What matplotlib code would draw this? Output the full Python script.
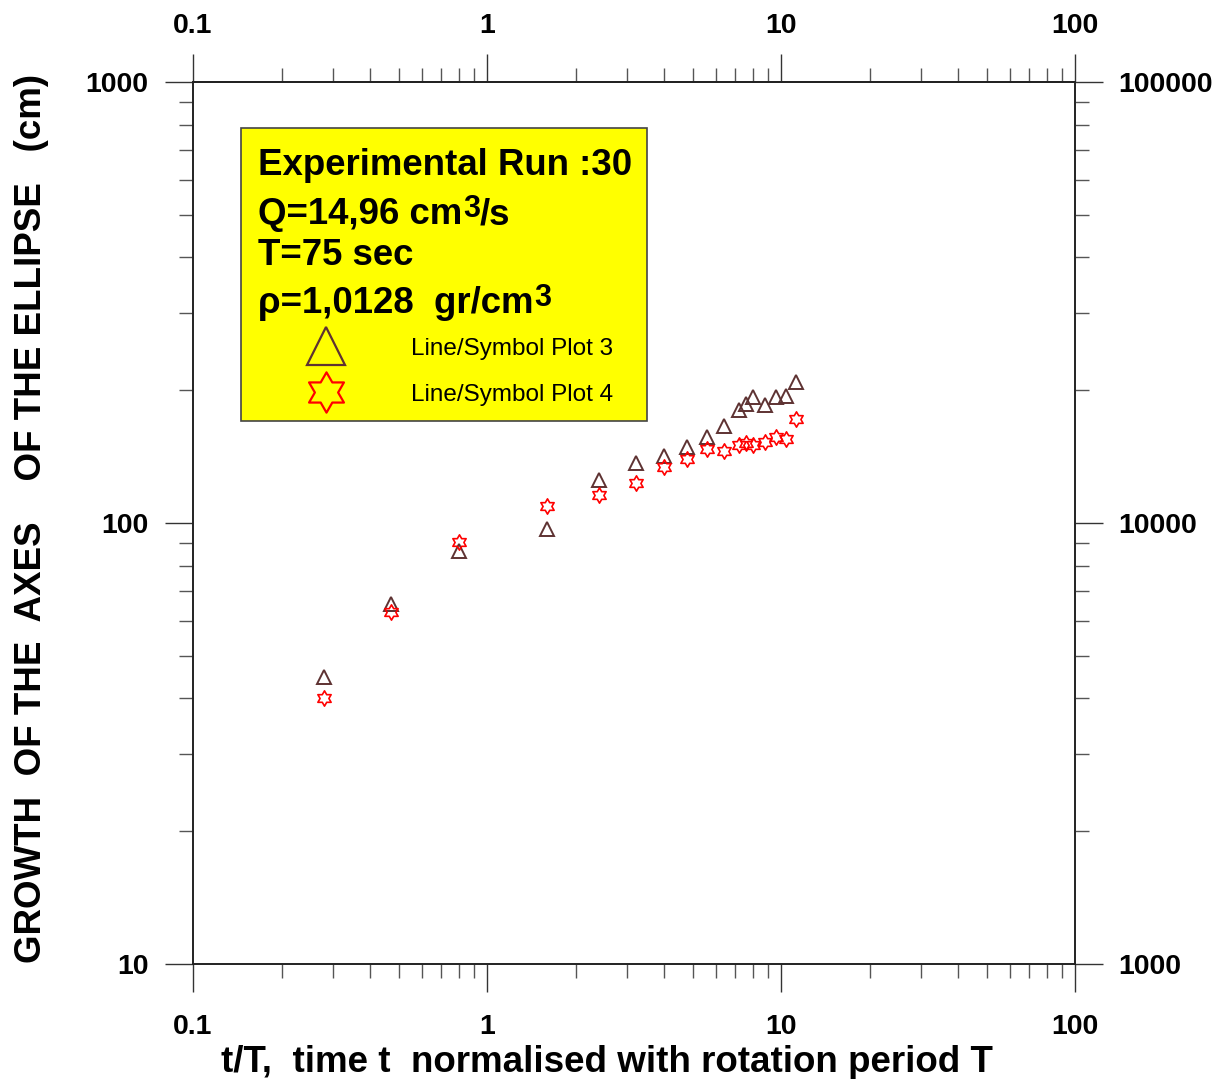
import numpy as np
import matplotlib
matplotlib.use('Agg')
import matplotlib.pyplot as plt
from matplotlib.path import Path
from matplotlib.lines import Line2D
from matplotlib.patches import Rectangle
from matplotlib.ticker import FuncFormatter, LogLocator

plt.rcParams['font.family'] = ['Liberation Sans', 'DejaVu Sans']

# data
t_norm = [0.28, 0.47, 0.8, 1.6, 2.4, 3.2, 4.0, 4.8, 5.6, 6.4,
          7.2, 7.6, 8.0, 8.8, 9.6, 10.4, 11.2]
plot3 = [44.8, 65.5, 86.4, 96.9, 125, 137, 142, 149, 157, 166,
         180, 186, 193, 185, 193, 194, 209]
plot4 = [40.1, 62.9, 90.6, 109, 116, 123, 134, 140, 147, 146,
         150, 152, 150, 153, 157, 155, 172]

xticks = [0.1, 1, 10, 100]
yticks = [10, 100, 1000]
yticks_right = [1000, 10000, 100000]

brown = '#5e3232'
red = '#ff0000'

# six pointed star marker
ang_out = np.deg2rad(90 + 60 * np.arange(6))
ang_in = ang_out + np.deg2rad(30)
verts = []
for a, b in zip(ang_out, ang_in):
    verts.append((np.cos(a), np.sin(a)))
    verts.append((np.cos(b) / np.sqrt(3), np.sin(b) / np.sqrt(3)))
verts.append(verts[0])
star = Path(verts, closed=True)

fig = plt.figure(figsize=(12.24, 10.79), dpi=100)
ax = fig.add_axes([0.1577, 0.1066, 0.7206, 0.8174])

ax.plot(t_norm, plot3, ls='none', marker='^', ms=10, mfc='none', mec=brown, mew=1.4)
ax.plot(t_norm, plot4, ls='none', marker=star, ms=11, mfc='none', mec=red, mew=1.2)

ax.set_xscale('log')
ax.set_yscale('log')
ax.set_xlim(0.1, 100)
ax.set_ylim(10, 1000)

fmt = FuncFormatter(lambda v, p: '%g' % v)
nofmt = FuncFormatter(lambda v, p: '')
ax.set_xticks(xticks)
ax.set_yticks(yticks)
ax.xaxis.set_major_formatter(fmt)
ax.yaxis.set_major_formatter(fmt)
ax.xaxis.set_minor_locator(LogLocator(subs=np.arange(2, 10)))
ax.yaxis.set_minor_locator(LogLocator(subs=np.arange(2, 10)))
ax.xaxis.set_minor_formatter(nofmt)
ax.yaxis.set_minor_formatter(nofmt)

ax.tick_params(which='major', direction='out', length=20, width=1, color='#333333',
               top=False, right=False, labelsize=20.5)
ax.tick_params(axis='x', which='major', pad=16)
ax.tick_params(axis='y', which='major', pad=12)
ax.tick_params(which='minor', direction='out', length=10, width=1, color='#555555',
               top=False, right=False)
for lab in ax.get_xticklabels() + ax.get_yticklabels():
    lab.set_fontweight('bold')

# top axis
secx = ax.secondary_xaxis('top')
secx.set_xticks(xticks)
secx.xaxis.set_major_formatter(fmt)
secx.xaxis.set_minor_locator(LogLocator(subs=np.arange(2, 10)))
secx.xaxis.set_minor_formatter(nofmt)
secx.tick_params(which='major', direction='out', length=20, width=1, color='#333333',
                 labelsize=20.5, pad=11)
secx.tick_params(which='minor', direction='out', length=10, width=1, color='#555555')
for lab in secx.get_xticklabels():
    lab.set_fontweight('bold')

# right axis
ax2 = ax.twinx()
ax2.set_yscale('log')
ax2.set_ylim(1000, 100000)
ax2.set_yticks(yticks_right)
ax2.yaxis.set_major_formatter(fmt)
ax2.yaxis.set_minor_locator(LogLocator(subs=np.arange(2, 10)))
ax2.yaxis.set_minor_formatter(nofmt)
ax2.tick_params(which='major', direction='out', length=20, width=1, color='#333333',
                labelsize=20.5, pad=11)
ax2.tick_params(which='minor', direction='out', length=10, width=1, color='#555555')
for lab in ax2.get_yticklabels():
    lab.set_fontweight('bold')

for a in [ax, ax2, secx]:
    for s in a.spines.values():
        s.set_color('#222222')
        s.set_linewidth(1.2)

ax.set_xlabel('t/T,  time t  normalised with rotation period T', fontsize=26.5,
              fontweight='bold', va='baseline')
ax.xaxis.set_label_coords(0.4688, -0.1224)
ax.set_ylabel('GROWTH  OF THE  AXES    OF THE ELLIPSE   (cm)', fontsize=26.5,
              fontweight='bold', va='baseline')
ax.yaxis.set_label_coords(-0.1720, 0.505)

# info box
ax.add_patch(Rectangle((0.0544, 0.616), 0.4603, 0.332, transform=ax.transAxes,
                       facecolor='#ffff00', edgecolor='#444444', lw=1.2, zorder=3))
fs = 26.4
sup_fs = 22


def line_with_sup(y, before, after):
    t = ax.text(0.0737, y, before, transform=ax.transAxes, fontsize=fs,
                fontweight='bold', va='baseline', ha='left', zorder=4)
    s = ax.annotate('3', xy=(1, y), xycoords=(t, 'axes fraction'), xytext=(0.5, 5),
                    textcoords='offset points', fontsize=sup_fs, fontweight='bold',
                    va='baseline', ha='left', zorder=4)
    if after:
        ax.annotate(after, xy=(1, y), xycoords=(s, 'axes fraction'), xytext=(0, 0),
                    textcoords='offset points', fontsize=fs, fontweight='bold',
                    va='baseline', ha='left', zorder=4)


ax.text(0.0737, 0.8946, 'Experimental Run :30', transform=ax.transAxes, fontsize=fs,
        fontweight='bold', va='baseline', ha='left', zorder=4)
line_with_sup(0.839, 'Q=14,96 cm', '/s')
ax.text(0.0737, 0.7925, 'T=75 sec', transform=ax.transAxes, fontsize=fs,
        fontweight='bold', va='baseline', ha='left', zorder=4)
line_with_sup(0.738, 'ρ=1,0128  gr/cm', '')

handles = [Line2D([], [], ls='none', marker='^', ms=27, mfc='none', mec=brown, mew=1.6),
           Line2D([], [], ls='none', marker=star, ms=29, mfc='none', mec=red, mew=1.6)]
leg = ax.legend(handles, ['Line/Symbol Plot 3', 'Line/Symbol Plot 4'],
                loc='upper left', bbox_to_anchor=(0.12, 0.710), frameon=False,
                fontsize=17.5, handlelength=2.2, handletextpad=2.4, labelspacing=0.975,
                borderpad=0, borderaxespad=0)
leg.set_zorder(5)

fig.savefig('out.png', dpi=100)
